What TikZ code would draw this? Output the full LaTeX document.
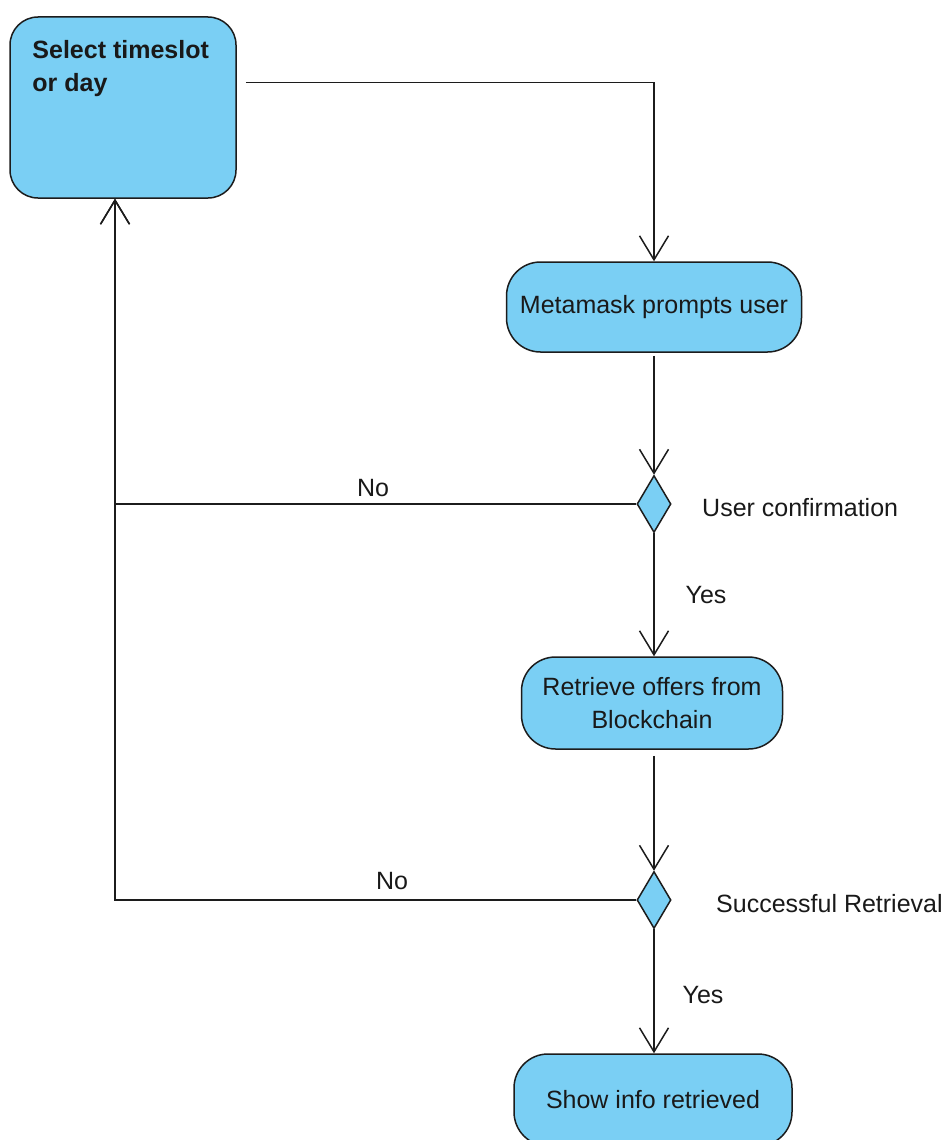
\documentclass[tikz,border=0pt]{standalone}
\usepackage{fontspec}
\setmainfont{Liberation Sans}
\usetikzlibrary{shapes.geometric,arrows.meta,calc}
\definecolor{actfill}{RGB}{122,207,244}
\definecolor{edge}{RGB}{28,28,28}

\begin{document}
\begin{tikzpicture}[x=1pt,y=1pt,
  every node/.style={font=\fontsize{25}{33}\selectfont, text=black!90},
  action/.style={draw=edge, line width=1.5pt, fill=actfill, rounded corners=34pt,
                 inner sep=0pt, align=center},
  decision/.style={diamond, draw=edge, line width=1.5pt, fill=actfill,
                   minimum width=34pt, minimum height=57pt, inner sep=0pt},
  flow/.style={draw=edge, line width=1.5pt,
               -{Straight Barb[length=24pt,width=29pt,line width=1.5pt]}},
  lbl/.style={inner sep=0pt}
]
\useasboundingbox (0,0) rectangle (947,-1140);

% activities
\node[action, minimum width=226pt, minimum height=181pt, rounded corners=28pt,
      label={[anchor=north west, inner sep=0pt, align=left, xshift=23pt, yshift=-24pt,
              font=\fontsize{25}{33}\selectfont\bfseries]north west:Select timeslot\\or day}]
      (select) at (123,-107.5) {};
\node[action, minimum width=295pt, minimum height=90pt] (meta) at (654,-307) {Metamask prompts user};
\node[decision] (d1) at (654,-504) {};
\node[action, minimum width=261pt, minimum height=92pt] (retr) at (652,-703) {Retrieve offers from\\Blockchain};
\node[decision] (d2) at (654,-900) {};
\node[action, minimum width=278pt, minimum height=92pt] (show) at (653,-1100) {Show info retrieved};

% guard and decision labels
\node[lbl, anchor=west] (q1) at (702,-508) {User confirmation};
\node[lbl, anchor=west] (q2) at (716,-904) {Successful Retrieval};
\node[lbl] (no1) at (373,-488) {No};
\node[lbl] (no2) at (392,-881) {No};
\node[lbl] (yes1) at (706,-595) {Yes};
\node[lbl] (yes2) at (703,-995) {Yes};

% control flow
\coordinate (back) at ($(select.south)+(-8,0)$);
\draw[flow, shorten <=9pt] ($(select.east)+(0,25)$) -| (meta.north);
\draw[flow, shorten <=3pt] (meta.south) -- (d1.north);
\draw[flow] (d1.south) -- (d1.south |- retr.north);
\draw[flow, shorten <=6pt] (d2.north |- retr.south) -- (d2.north);
\draw[flow] (d2.south) -- (d2.south |- show.north);
\draw[flow] (d1.west) -| (back);
\draw[flow] (d2.west) -| (back);
\end{tikzpicture}
\end{document}
